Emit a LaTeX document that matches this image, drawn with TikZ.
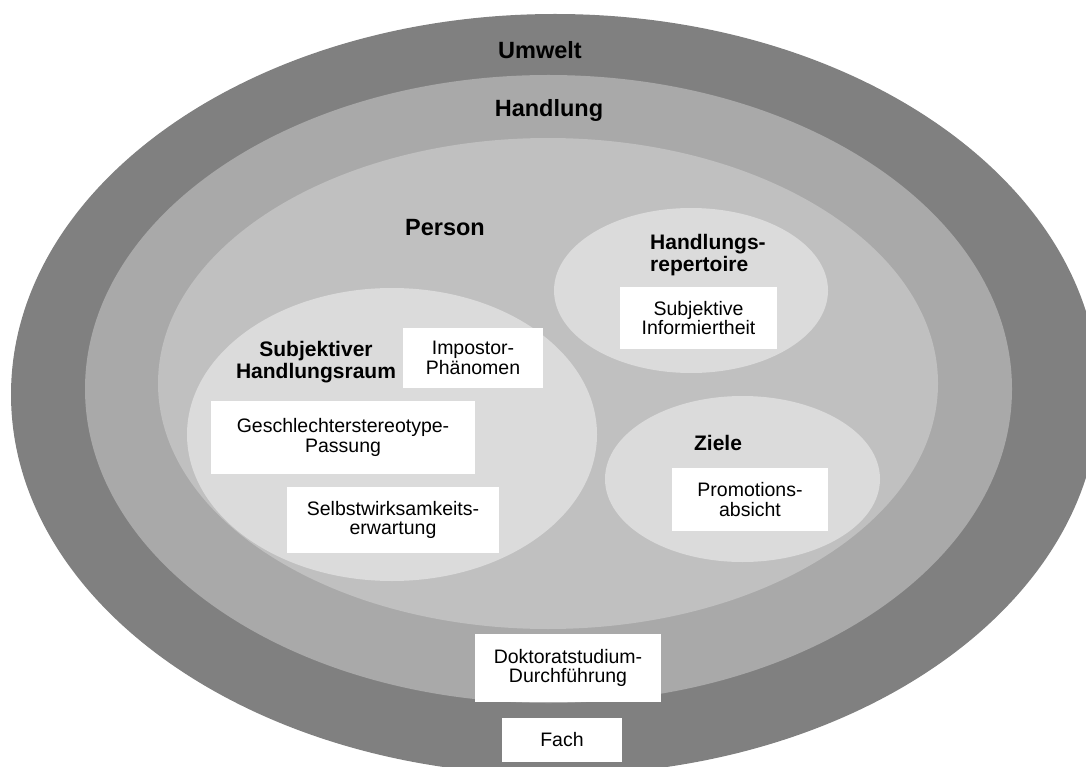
\documentclass[tikz,border=0pt]{standalone}
\usepackage{fontspec}
\setmainfont{Liberation Sans}
\definecolor{ringUmwelt}{RGB}{128,128,128}
\definecolor{ringHandlung}{RGB}{169,169,169}
\definecolor{ringPerson}{RGB}{192,192,192}
\definecolor{innerField}{RGB}{219,219,219}
\begin{document}
\begin{tikzpicture}[x=1pt,y=-1pt,
  biglabel/.style={inner sep=0pt, font=\bfseries\fontsize{23.5}{25}\selectfont},
  sublabel/.style={inner sep=0pt, align=center, font=\bfseries\fontsize{21}{21.7}\selectfont},
  factor/.style={rectangle, fill=white, inner sep=0pt, align=center,
    font=\fontsize{19.5}{19.5}\selectfont},
]
\useasboundingbox (0,0) rectangle (1086,767);
\clip (0,0) rectangle (1086,767);

% nested spheres
\fill[ringUmwelt]   (555,394.5) ellipse [x radius=544pt, y radius=380.5pt];
\fill[ringHandlung] (548.5,389) ellipse [x radius=463.5pt, y radius=314pt];
\fill[ringPerson]   (548,383.5) ellipse [x radius=390pt, y radius=245.5pt];

% components of the person
\fill[innerField] (392,434.5) ellipse [x radius=205pt, y radius=146.5pt];
\fill[innerField] (691,290.5) ellipse [x radius=137pt, y radius=82.5pt];
\fill[innerField] (742.5,479) ellipse [x radius=137.5pt, y radius=83pt];

% sphere labels
\node[biglabel] (lUmwelt)   at (540,50)    {Umwelt};
\node[biglabel] (lHandlung) at (549,110)   {Handlung};
\node[biglabel] (lPerson)   at (445,227.5) {Person};

\node[sublabel] (lRaum) at (316,362) {Subjektiver\\Handlungsraum};
\node[sublabel, align=left, anchor=west] (lRepertoire) at (650,255) {Handlungs-\\repertoire};
\node[sublabel] (lZiele) at (718,443) {Ziele};

% factors
\node[factor, minimum width=140pt, minimum height=60pt] (impostor) at (473,358) {Impostor-\\Phänomen};
\node[factor, minimum width=264pt, minimum height=73pt] (passung) at (343,437.5) {Geschlechterstereotype-\\Passung};
\node[factor, minimum width=212pt, minimum height=66pt] (swe) at (393,520) {Selbstwirksamkeits-\\erwartung};
\node[factor, minimum width=157pt, minimum height=62pt] (info) at (698.5,318) {Subjektive\\Informiertheit};
\node[factor, minimum width=156pt, minimum height=63pt] (absicht) at (750,499.5) {Promotions-\\absicht};
\node[factor, minimum width=186pt, minimum height=68pt] (durchf) at (568,668) {Doktoratstudium-\\Durchführung};
\node[factor, minimum width=120pt, minimum height=44pt] (fach) at (562,740) {Fach};
\end{tikzpicture}
\end{document}
